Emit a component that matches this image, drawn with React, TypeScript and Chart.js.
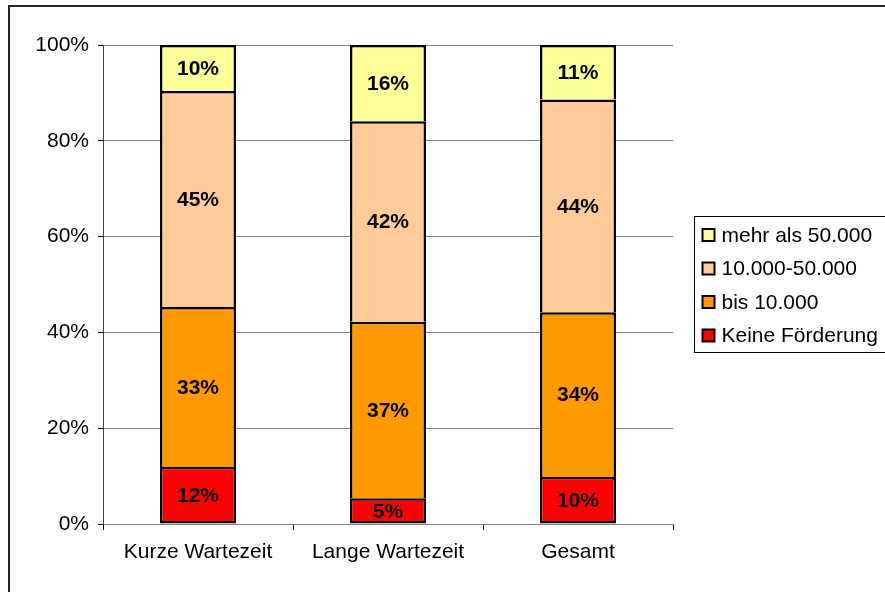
import React, { useEffect, useRef } from "react";
import { Chart, registerables } from "chart.js";

Chart.register(...registerables);

const categories = ["Kurze Wartezeit", "Lange Wartezeit", "Gesamt"];
const seriesNames = ["Keine Förderung", "bis 10.000", "10.000-50.000", "mehr als 50.000"];
const keineFoerderung = [11.9, 5.4, 9.8];
const bis10000 = [33.4, 36.8, 34.4];
const von10000bis50000 = [45.1, 41.9, 44.4];
const mehrAls50000 = [9.6, 15.9, 11.4];
const seriesColors = ["#FF0000", "#FF9900", "#FFCC99", "#FFFF99"];
const yTicks = [0, 20, 40, 60, 80, 100];

const FONT = "'Liberation Sans', Arial, sans-serif";

const labelPlugin = {
  id: "segLabels",
  afterDatasetsDraw(chart: any) {
    const ctx = chart.ctx;
    ctx.save();
    ctx.font = `bold 21px ${FONT}`;
    ctx.fillStyle = "#000";
    ctx.textAlign = "center";
    ctx.textBaseline = "middle";
    chart.data.datasets.forEach((ds: any, i: number) => {
      const meta = chart.getDatasetMeta(i);
      meta.data.forEach((el: any, j: number) => {
        const v = ds.data[j];
        const cy = (el.y + el.base) / 2;
        ctx.fillText(Math.round(v) + "%", el.x, cy + 1);
      });
    });
    ctx.restore();
  },
};

const framePlugin = {
  id: "frameLegend",
  afterDraw(chart: any) {
    const ctx = chart.ctx;
    const area = chart.chartArea;
    ctx.save();
    // outer frame
    ctx.strokeStyle = "#222";
    ctx.lineWidth = 2;
    ctx.beginPath();
    ctx.moveTo(9, chart.height + 2);
    ctx.lineTo(9, 6);
    ctx.lineTo(chart.width + 2, 6);
    ctx.stroke();

    // legend
    const lx = area.right + 21.5;
    const ly = 216.5;
    const lh = 136;
    ctx.lineWidth = 1;
    ctx.strokeStyle = "#000";
    ctx.strokeRect(lx, ly, chart.width + 10 - lx, lh);
    ctx.font = `21px ${FONT}`;
    ctx.textBaseline = "middle";
    ctx.textAlign = "left";
    const n = seriesNames.length;
    for (let k = 0; k < n; k++) {
      const idx = n - 1 - k;
      const cy = 235 + k * 33.5;
      ctx.fillStyle = seriesColors[idx];
      ctx.fillRect(lx + 8, cy - 6, 12, 12);
      ctx.lineWidth = 2;
      ctx.strokeStyle = "#000";
      ctx.strokeRect(lx + 8, cy - 6, 12, 12);
      ctx.fillStyle = "#000";
      ctx.fillText(seriesNames[idx], lx + 27, cy + 1);
    }
    ctx.restore();
  },
};

export default function App() {
  const ref = useRef<HTMLCanvasElement>(null);
  useEffect(() => {
    if (!ref.current) return;
    const values = [keineFoerderung, bis10000, von10000bis50000, mehrAls50000];
    const chart = new Chart(ref.current, {
      type: "bar",
      data: {
        labels: categories,
        datasets: seriesNames.map((name, i) => ({
          label: name,
          data: values[i],
          backgroundColor: seriesColors[i],
          borderColor: "#000",
          borderWidth: i === 0
            ? { top: 2.5, left: 2.5, right: 2.5, bottom: 2.5 }
            : { top: 2.5, left: 2.5, right: 2.5, bottom: 0 },
          borderSkipped: false,
          barPercentage: 0.4,
          categoryPercentage: 1,
        })),
      },
      options: {
        responsive: false,
        animation: false,
        devicePixelRatio: 1,
        layout: { padding: { left: 0, top: 45, right: 212, bottom: 0 } },
        plugins: {
          legend: { display: false },
          tooltip: { enabled: false },
        },
        scales: {
          x: {
            stacked: true,
            offset: true,
            grid: {
              offset: true,
              drawOnChartArea: false,
              drawTicks: true,
              tickLength: 6,
              tickColor: "#000",
              color: "#000",
            },
            border: { color: "#808080", width: 1 },
            ticks: {
              color: "#000",
              font: { family: FONT, size: 21 },
              padding: 10,
            },
            afterFit(scale: any) {
              scale.height = 68;
            },
          },
          y: {
            stacked: true,
            min: 0,
            max: 100,
            afterBuildTicks(scale: any) {
              scale.ticks = yTicks.map((v) => ({ value: v }));
            },
            grid: {
              color: "#808080",
              tickColor: "#000",
              tickLength: 5,
              lineWidth: 1,
            },
            border: { color: "#404040", width: 1 },
            ticks: {
              color: "#000",
              font: { family: FONT, size: 21 },
              padding: 9,
              callback: (v: any) => v + "%",
            },
            afterFit(scale: any) {
              scale.width = 103;
            },
          },
        },
      },
      plugins: [labelPlugin, framePlugin],
    });
    return () => chart.destroy();
  }, []);
  return (
    <div style={{ position: "fixed", left: 0, top: 0, width: 885, height: 592, background: "#fff" }}>
      <canvas ref={ref} width={885} height={592} style={{ display: "block" }} />
    </div>
  );
}
